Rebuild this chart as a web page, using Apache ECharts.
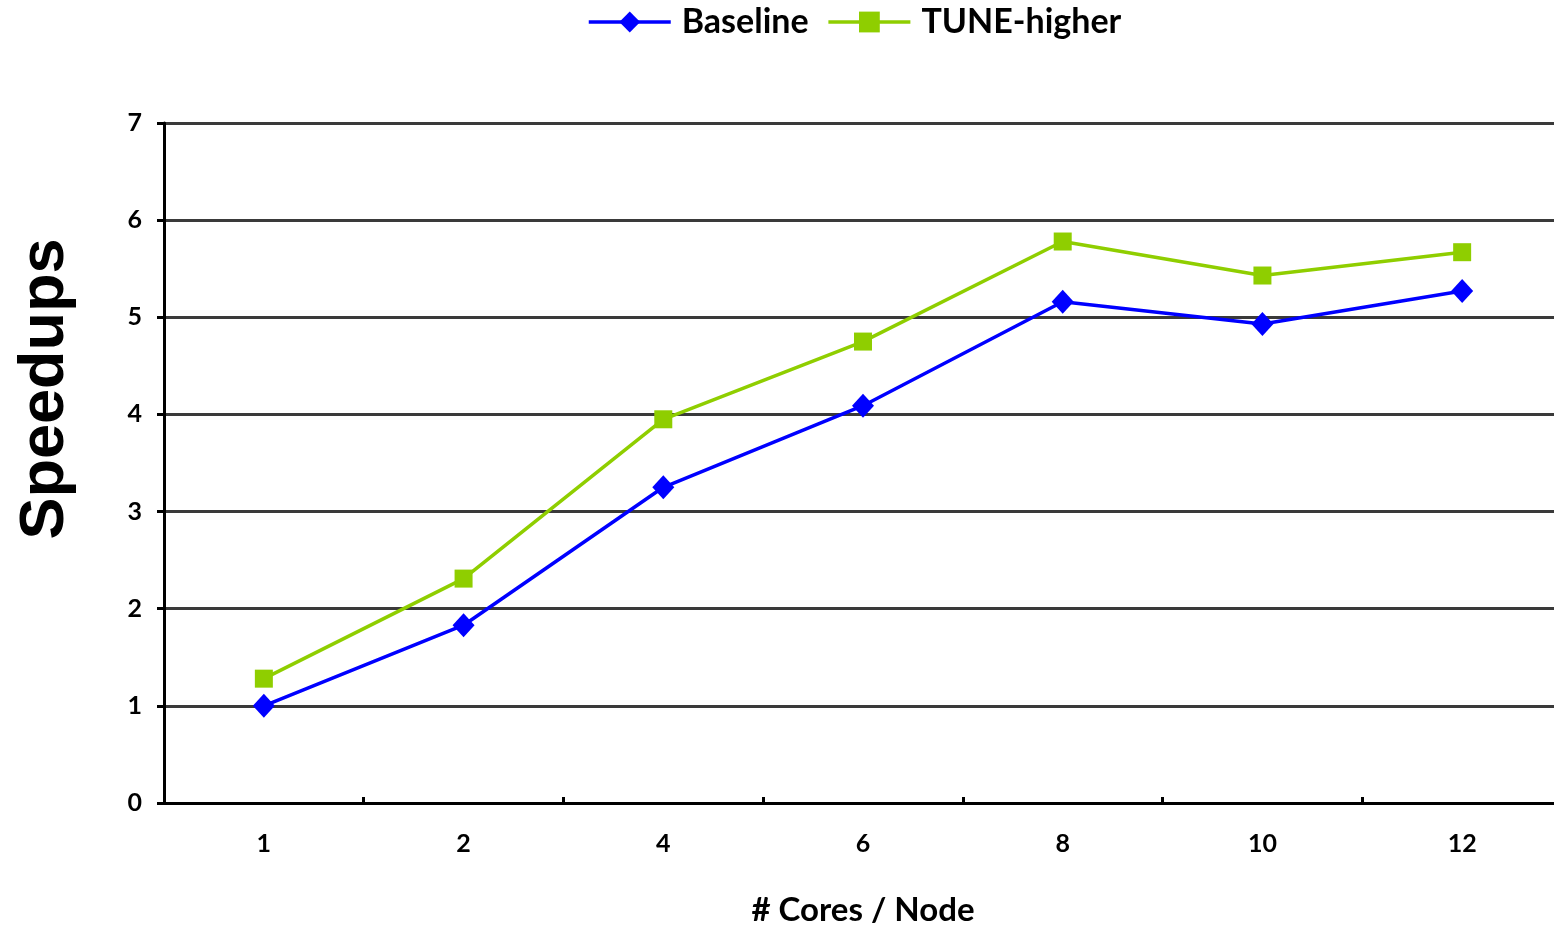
<!DOCTYPE html>
<html>
<head>
<meta charset="utf-8">
<script src="https://cdn.jsdelivr.net/npm/echarts@6/dist/echarts.min.js"></script>
<style>
  html, body { margin: 0; padding: 0; background: #fff; }
  #chart { width: 1554px; height: 926px; }
</style>
</head>
<body>
<div id="chart"></div>
<script>
// Cores per node on the x axis, speedup over single-core baseline on y
const cores = ['1', '2', '4', '6', '8', '10', '12'];
const baseline = [1.00, 1.83, 3.25, 4.09, 5.16, 4.93, 5.27];
const tuneHigher = [1.28, 2.31, 3.95, 4.75, 5.78, 5.43, 5.67];
const yTicks = [0, 1, 2, 3, 4, 5, 6, 7];

const labelFont = 'Lato, "Open Sans", sans-serif';

const chart = echarts.init(document.getElementById('chart'), null, { renderer: 'canvas' });
chart.setOption({
  animation: false,
  backgroundColor: '#ffffff',
  legend: {
    top: 0,
    left: 582,
    itemWidth: 82,
    itemHeight: 26,
    itemGap: 18,
    lineStyle: { width: 3.5 },
    textStyle: { fontFamily: labelFont, fontWeight: 'bold', fontSize: 34, color: '#000', padding: [2, 0, 0, 6] },
    data: ['Baseline', 'TUNE-higher']
  },
  grid: { left: 164, right: -8, top: 123, bottom: 123, containLabel: false, outerBoundsMode: 'none' },
  xAxis: {
    type: 'category',
    data: cores,
    boundaryGap: true,
    name: '# Cores / Node',
    nameLocation: 'middle',
    nameGap: 91,
    nameTextStyle: { fontFamily: labelFont, fontWeight: 'bold', fontSize: 33, color: '#000' },
    axisLine: { lineStyle: { color: '#000', width: 3 } },
    axisTick: { show: true, inside: true, length: 6, lineStyle: { color: '#000', width: 3 } },
    axisLabel: { fontFamily: labelFont, fontWeight: 'bold', fontSize: 25, color: '#000', margin: 28 },
    splitLine: { show: false }
  },
  yAxis: {
    type: 'value',
    min: yTicks[0],
    max: yTicks[yTicks.length - 1],
    interval: 1,
    name: 'Speedups',
    nameLocation: 'middle',
    nameGap: 87,
    nameRotate: 90,
    nameTextStyle: {
      fontFamily: '"Liberation Sans", Arial, sans-serif',
      fontWeight: 'bold',
      fontSize: 63,
      color: '#000',
      // lift the title above the axis midpoint
      padding: [0, 0, 0, 148]
    },
    axisLine: { show: true, lineStyle: { color: '#000', width: 3 } },
    axisTick: { show: true, inside: false, length: 7, lineStyle: { color: '#000', width: 3 } },
    axisLabel: { fontFamily: labelFont, fontWeight: 'bold', fontSize: 25, color: '#000', margin: 22 },
    splitLine: { show: true, lineStyle: { color: '#3a3a3a', width: 3 } }
  },
  series: [
    {
      name: 'Baseline',
      type: 'line',
      data: baseline,
      symbol: 'diamond',
      symbolSize: [22, 24],
      lineStyle: { color: '#0000ff', width: 3.5 },
      itemStyle: { color: '#0000ff' },
      z: 3
    },
    {
      name: 'TUNE-higher',
      type: 'line',
      data: tuneHigher,
      symbol: 'rect',
      symbolSize: 18,
      lineStyle: { color: '#8fce00', width: 3.5 },
      itemStyle: { color: '#8fce00' },
      z: 2
    }
  ]
});
</script>
</body>
</html>
